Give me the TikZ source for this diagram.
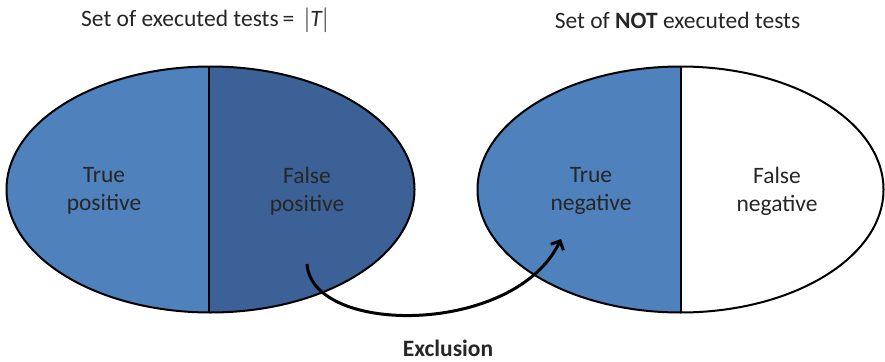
\documentclass[tikz,border=0pt]{standalone}
\usepackage{fontspec}
\setmainfont{Carlito}
\usetikzlibrary{arrows.meta}
\definecolor{lightblue}{HTML}{4F81BD}
\definecolor{darkblue}{HTML}{3B6196}
\definecolor{txt}{HTML}{262626}
\tikzset{
  lbl/.style={align=center, text=txt, font=\fontsize{23.5}{28}\selectfont, inner sep=0pt},
  outline/.style={draw=black, line width=2pt},
  excl/.style={draw=black, line width=3pt, -{Straight Barb[length=7pt,width=14pt]}}
}
\begin{document}
\begin{tikzpicture}[x=1pt,y=-1pt]
\useasboundingbox (0,0) rectangle (885,361);
% left ellipse
\begin{scope}
  \clip (210.5,189.5) ellipse [x radius=204pt, y radius=123pt];
  \fill[lightblue] (0,60) rectangle (209,320);
  \fill[darkblue] (209,60) rectangle (420,320);
\end{scope}
\draw[outline] (209,66) -- (209,313);
\draw[outline] (210.5,189.5) ellipse [x radius=204pt, y radius=123pt];
% right ellipse
\begin{scope}
  \clip (680.5,189.5) ellipse [x radius=203pt, y radius=123pt];
  \fill[lightblue] (470,60) rectangle (681,320);
  \fill[white] (681,60) rectangle (890,320);
\end{scope}
\draw[outline] (681,66) -- (681,313);
\draw[outline] (680.5,189.5) ellipse [x radius=203pt, y radius=123pt];
% titles
\node[lbl] (t1) at (205,20) {Set of executed tests\,= \,$|\mathit{T}|$};
\node[lbl] (t2) at (677.5,20) {Set of \textbf{NOT} executed tests};
% labels
\node[lbl] (tp) at (104,191) {True\\positive};
\node[lbl] (fp) at (307,191) {False\\positive};
\node[lbl] (tn) at (591,191) {True\\negative};
\node[lbl] (fn) at (777,191) {False\\negative};
\node[lbl, font=\fontsize{23.5}{28}\selectfont\bfseries] (ex) at (448,348) {Exclusion};
% arrow
\coordinate (exstart) at (307,264);
\coordinate (exend) at (561,239);
\draw[excl] (exstart) .. controls (312,336) and (515,336) .. (exend);
\end{tikzpicture}
\end{document}
